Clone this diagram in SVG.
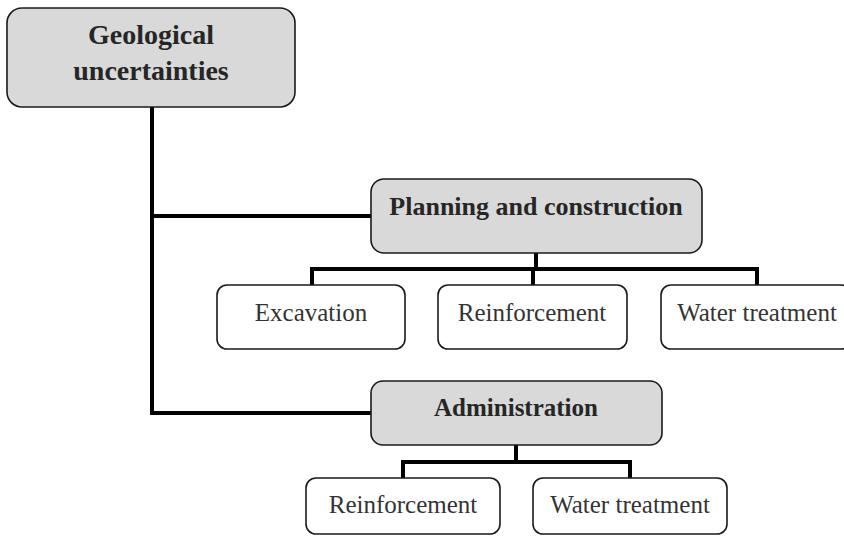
<svg xmlns="http://www.w3.org/2000/svg" width="844" height="536" viewBox="0 0 844 536">
<style>
.hd{fill:#d9d9d9;stroke:#1a1a1a;stroke-width:1.6}
.lf{fill:#ffffff;stroke:#1a1a1a;stroke-width:1.6}
.tb{font-family:"Liberation Serif",serif;font-weight:bold;fill:#262626;text-anchor:middle}
.tr{font-family:"Liberation Serif",serif;fill:#333333;text-anchor:middle;font-size:25px}
.cn{fill:none;stroke:#000;stroke-width:4;stroke-linejoin:miter;stroke-linecap:butt}
</style>
<rect width="844" height="536" fill="#fff"/>
<g id="connectors">
<path class="cn" d="M152,107 V413 H371"/>
<path class="cn" d="M152,216 H371"/>
<path class="cn" d="M536,253 V269"/>
<path class="cn" d="M312,285 V269 H757 V285"/>
<path class="cn" d="M533,269 V285"/>
<path class="cn" d="M516,445 V462"/>
<path class="cn" d="M403,478 V462 H630 V478"/>
</g>
<g id="geological">
<rect class="hd" x="7" y="8" width="288" height="99" rx="15"/>
<text class="tb" x="151" y="44" font-size="28">Geological</text>
<text class="tb" x="151" y="80" font-size="28">uncertainties</text>
</g>
<g id="planning">
<rect class="hd" x="371" y="179" width="331" height="74" rx="13"/>
<text class="tb" x="536" y="215" font-size="26">Planning and construction</text>
</g>
<g id="excavation">
<rect class="lf" x="217" y="285" width="188" height="64" rx="10"/>
<text class="tr" x="311" y="321">Excavation</text>
</g>
<g id="reinforcement1">
<rect class="lf" x="438" y="285" width="189" height="64" rx="10"/>
<text class="tr" x="532" y="321">Reinforcement</text>
</g>
<g id="water1">
<rect class="lf" x="661" y="285" width="190" height="64" rx="10"/>
<text class="tr" x="757" y="321">Water treatment</text>
</g>
<g id="administration">
<rect class="hd" x="371" y="381" width="291" height="64" rx="12"/>
<text class="tb" x="516" y="416" font-size="25">Administration</text>
</g>
<g id="reinforcement2">
<rect class="lf" x="306" y="478" width="194" height="56" rx="10"/>
<text class="tr" x="403" y="513">Reinforcement</text>
</g>
<g id="water2">
<rect class="lf" x="533" y="478" width="194" height="56" rx="10"/>
<text class="tr" x="630" y="513">Water treatment</text>
</g>
</svg>
